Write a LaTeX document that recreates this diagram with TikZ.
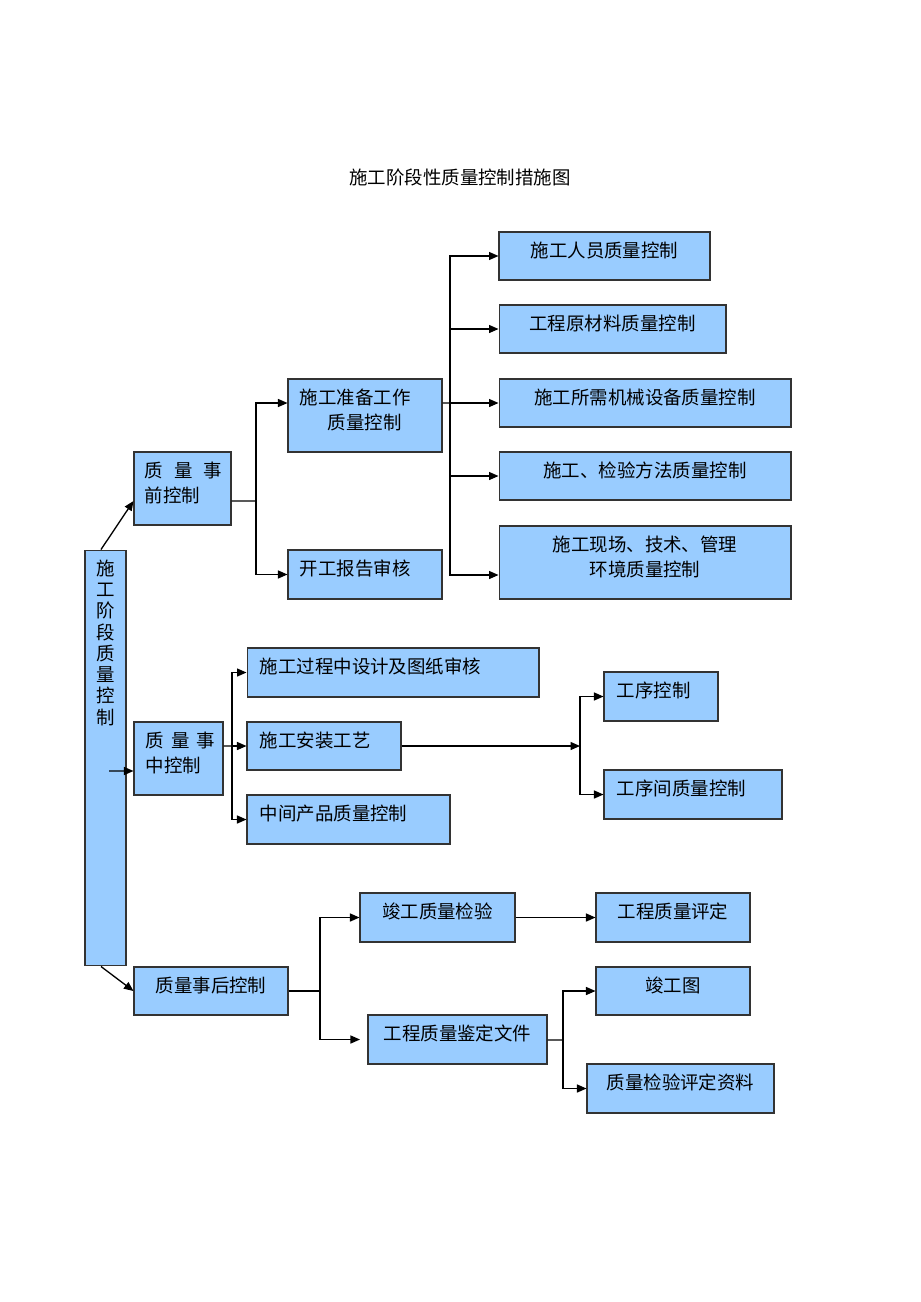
\documentclass[tikz,border=0pt]{standalone}
\usepackage{fontspec}
\newfontfamily\cjk{Noto Sans CJK SC}
\usetikzlibrary{arrows.meta}
\definecolor{boxblue}{HTML}{99CCFF}
\definecolor{edgegray}{HTML}{333333}
\tikzset{
  box/.style={draw=edgegray, fill=boxblue, line width=0.6pt, inner sep=0pt},
  txt/.style={font=\cjk\fontsize{10.5}{14.2}\selectfont, align=center, inner sep=0pt, yshift=3.4pt},
  lft/.style={txt, align=left, anchor=west, xshift=0.24cm},
  vtxt/.style={font=\cjk\fontsize{10.5}{12.1}\selectfont, align=center, anchor=north, inner sep=0pt, yshift=-0.2cm},
  line/.style={draw=black, line width=0.75pt},
  arr/.style={line, -{Triangle[length=1.9mm,width=1.6mm]}}
}
\begin{document}
\begin{tikzpicture}[x=0.02cm,y=-0.02cm]
\useasboundingbox (0,0) rectangle (920,1302);
\node[font=\cjk\fontsize{10.5}{13}\selectfont, inner sep=0pt] (title) at (460,177) {施工阶段性质量控制措施图};
% left column
\node[box, minimum width=0.82cm, minimum height=8.32cm, label={[vtxt]north:施\\工\\阶\\段\\质\\量\\控\\制}] (tall) at (105.5,758) {};
\node[box, minimum width=1.94cm, minimum height=1.46cm, label={[lft,xshift=-0.02cm]west:质\hspace{0.22cm}量\hspace{0.22cm}事\\前控制}] (pre) at (182.5,488.5) {};
\node[box, minimum width=1.78cm, minimum height=1.46cm, label={[lft]west:质\hspace{0.14cm}量\hspace{0.14cm}事\\中控制}] (mid) at (178.5,758.5) {};
\node[box, minimum width=3.08cm, minimum height=0.96cm, label={[txt]center:质量事后控制}] (post) at (211,991) {};
% before
\node[box, minimum width=3.08cm, minimum height=1.46cm, label={[lft]west:施工准备工作\\\hspace{0.56cm}质量控制}] (prep) at (365,415.5) {};
\node[box, minimum width=3.08cm, minimum height=0.98cm, label={[lft]west:开工报告审核}] (rpt) at (365,574.5) {};
\node[box, minimum width=4.22cm, minimum height=0.96cm, label={[txt]center:施工人员质量控制}] (r1) at (604.5,256) {};
\node[box, minimum width=4.54cm, minimum height=0.96cm, label={[txt]center:工程原材料质量控制}] (r2) at (612.5,329) {};
\node[box, minimum width=5.84cm, minimum height=0.96cm, label={[txt]center:施工所需机械设备质量控制}] (r3) at (645,403) {};
\node[box, minimum width=5.84cm, minimum height=0.96cm, label={[txt]center:施工、检验方法质量控制}] (r4) at (645,476) {};
\node[box, minimum width=5.84cm, minimum height=1.46cm, label={[txt]center:施工现场、技术、管理\\环境质量控制}] (r5) at (645,562.5) {};
% during
\node[box, minimum width=5.84cm, minimum height=0.98cm, label={[lft,xshift=0.02cm]west:施工过程中设计及图纸审核}] (dsgn) at (393,672.5) {};
\node[box, minimum width=3.08cm, minimum height=0.96cm, label={[lft,xshift=0.02cm]west:施工安装工艺}] (inst) at (324,746) {};
\node[box, minimum width=4.06cm, minimum height=0.98cm, label={[lft,xshift=0.02cm]west:中间产品质量控制}] (part) at (348.5,819.5) {};
\node[box, minimum width=2.28cm, minimum height=0.98cm, label={[lft,xshift=0.02cm]west:工序控制}] (proc) at (661,696.5) {};
\node[box, minimum width=3.56cm, minimum height=0.98cm, label={[lft,xshift=0.02cm]west:工序间质量控制}] (step2) at (693,794.5) {};
% after
\node[box, minimum width=3.1cm, minimum height=0.98cm, label={[txt]center:竣工质量检验}] (insp) at (437.5,917.5) {};
\node[box, minimum width=3.08cm, minimum height=0.98cm, label={[txt]center:工程质量评定}] (eval) at (673,917.5) {};
\node[box, minimum width=3.58cm, minimum height=0.98cm, label={[txt]center:工程质量鉴定文件}] (docs) at (457.5,1039.5) {};
\node[box, minimum width=3.08cm, minimum height=0.96cm, label={[txt]center:竣工图}] (asbuilt) at (673,991) {};
\node[box, minimum width=3.74cm, minimum height=0.98cm, label={[txt]center:质量检验评定资料}] (recs) at (680.5,1088.5) {};
% joints
\coordinate (j1) at (256,501);
\coordinate (j2) at (450,403);
\coordinate (m0) at (109,771);
\coordinate (j3) at (232,746);
\coordinate (j4) at (580,746);
\coordinate (j5) at (320,991);
\coordinate (j6) at (563,1040);
% connectors
\draw[arr] ([xshift=-0.09cm]tall.north) -- ([yshift=-0.25cm]pre.west);
\draw[line] ([yshift=-0.25cm]pre.east) -- (j1);
\draw[arr] (j1) |- ([yshift=0.25cm]prep.west);
\draw[arr] (j1) |- (rpt);
\draw[line] ([yshift=0.25cm]prep.east) -- (j2);
\draw[arr] (j2) |- (r1);
\draw[arr] (j2) |- (r2);
\draw[arr] (j2) -- (r3);
\draw[arr] (j2) |- (r4);
\draw[arr] (j2) |- ([yshift=-0.25cm]r5.west);
\draw[arr] (m0) -- ([yshift=-0.25cm]mid.west);
\draw[line] ([yshift=0.25cm]mid.east) -- (j3);
\draw[arr] (j3) |- (dsgn);
\draw[arr] (j3) -- (inst);
\draw[arr] (j3) |- (part);
\draw[arr] (inst) -- (j4);
\draw[arr] (j4) |- (proc);
\draw[arr] (j4) |- (step2);
\draw[arr] ([xshift=-0.09cm]tall.south) -- (post.west);
\draw[line] (post) -- (j5);
\draw[arr] (j5) |- (insp);
\draw[arr] (j5) |- ([xshift=-0.15cm]docs.west);
\draw[arr] (insp) -- (eval);
\draw[line] (docs) -- (j6);
\draw[arr] (j6) |- (asbuilt);
\draw[arr] (j6) |- (recs);
\end{tikzpicture}
\end{document}
